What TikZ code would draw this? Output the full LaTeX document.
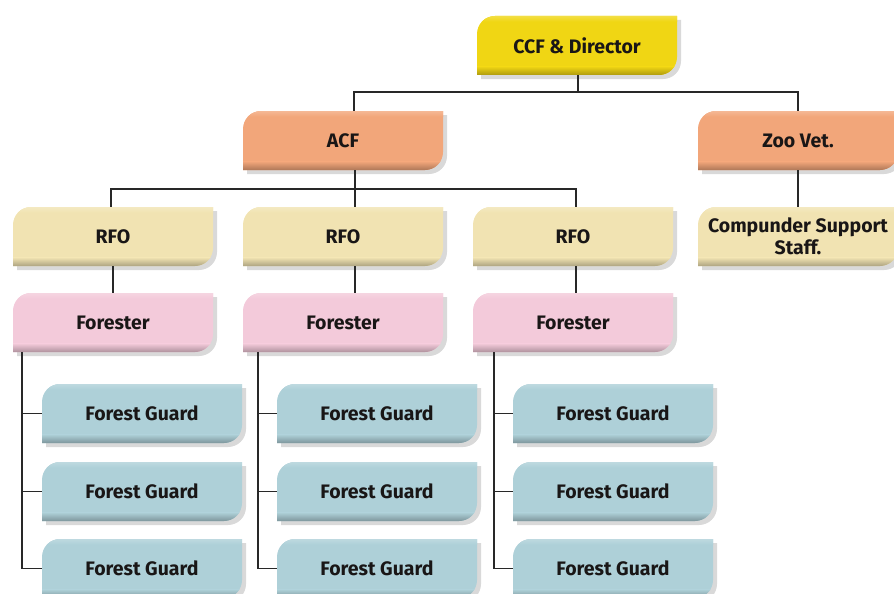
\documentclass[tikz,border=0pt]{standalone}
\usepackage{fontspec}
\setmainfont{Fira Sans}
\definecolor{cyel}{RGB}{240,214,20}
\definecolor{cora}{RGB}{242,166,122}
\definecolor{cbei}{RGB}{241,227,178}
\definecolor{cpin}{RGB}{243,202,218}
\definecolor{cblu}{RGB}{174,208,216}
\definecolor{ctxt}{RGB}{25,22,22}
\definecolor{cline}{RGB}{40,40,40}
\newcommand\cardshape{(-100,29.5) -- (-100,-11.5) .. controls (-100,-21.5) and (-92,-29.5) .. (-82,-29.5) -- (100,-29.5) -- (100,11.5) .. controls (100,21.5) and (92,29.5) .. (82,29.5) -- cycle}
\newcommand\card[5]{%
  \begin{scope}[shift={(#2,#3)}]
    \begin{scope}[shift={(4,4)}]
      \fill[gray!30] \cardshape;
    \end{scope}
    \fill[#4] \cardshape;
    \begin{scope}
      \clip \cardshape;
      \shade[top color=#4, bottom color=#4!72!black] (-100,21) rectangle (100,29.5);
      \shade[top color=#4!80!white, bottom color=#4] (-100,-29.5) rectangle (100,-24);
    \end{scope}
  \end{scope}
  \node[lbl] (#1) at (#2,#3) {#5};
}
\tikzset{
  lbl/.style={minimum width=200, minimum height=59, inner sep=0, text=ctxt,
    font=\fontsize{19.5}{22}\selectfont\bfseries, align=center},
  conn/.style={draw=cline, line width=1.3pt}
}
\begin{document}
\begin{tikzpicture}[x=1pt,y=-1pt]
\useasboundingbox (0,0) rectangle (894,594);
\card{ccf}{577}{45.5}{cyel}{CCF \& Director}
\card{acf}{343}{140.5}{cora}{ACF}
\card{zoo}{798}{140.5}{cora}{Zoo Vet.}
\card{rfo1}{113}{236.5}{cbei}{RFO}
\card{rfo2}{343}{236.5}{cbei}{RFO}
\card{rfo3}{573}{236.5}{cbei}{RFO}
\card{comp}{798}{236.5}{cbei}{Compunder Support\\Staff.}
\card{for1}{113}{322.5}{cpin}{Forester}
\card{for2}{343}{322.5}{cpin}{Forester}
\card{for3}{573}{322.5}{cpin}{Forester}
\card{g11}{142}{413.5}{cblu}{Forest Guard}
\card{g12}{142}{491.5}{cblu}{Forest Guard}
\card{g13}{142}{568.5}{cblu}{Forest Guard}
\card{g21}{377}{413.5}{cblu}{Forest Guard}
\card{g22}{377}{491.5}{cblu}{Forest Guard}
\card{g23}{377}{568.5}{cblu}{Forest Guard}
\card{g31}{613}{413.5}{cblu}{Forest Guard}
\card{g32}{613}{491.5}{cblu}{Forest Guard}
\card{g33}{613}{568.5}{cblu}{Forest Guard}
% top level
\coordinate (j1) at ([xshift=1]ccf.south |- 0,92);
\draw[conn] ([xshift=1]ccf.south) -- (j1);
\draw[conn] ([xshift=11]acf.north) |- (j1) -| (zoo.north);
% ACF to RFOs
\coordinate (j2) at ([xshift=12]acf.south |- 0,189);
\draw[conn] ([xshift=12]acf.south) -- ([xshift=12]rfo2.north);
\draw[conn] ([xshift=-2]rfo1.north) |- (j2) -| ([xshift=3]rfo3.north);
\draw[conn] (zoo.south) -- (comp.north);
% RFO to Forester
\draw[conn] (rfo1.south) -- (for1.north);
\draw[conn] ([xshift=12]rfo2.south) -- ([xshift=12]for2.north);
\draw[conn] ([xshift=3]rfo3.south) -- ([xshift=3]for3.north);
% Forester to guards
\foreach \c/\s in {1/22,2/258,3/494}{
  \coordinate (s\c) at (\s,0);
  \draw[conn] (s\c |- for\c.south) |- (g\c3.west);
  \draw[conn] (s\c |- g\c1.west) -- (g\c1.west);
  \draw[conn] (s\c |- g\c2.west) -- (g\c2.west);
}
\end{tikzpicture}
\end{document}
